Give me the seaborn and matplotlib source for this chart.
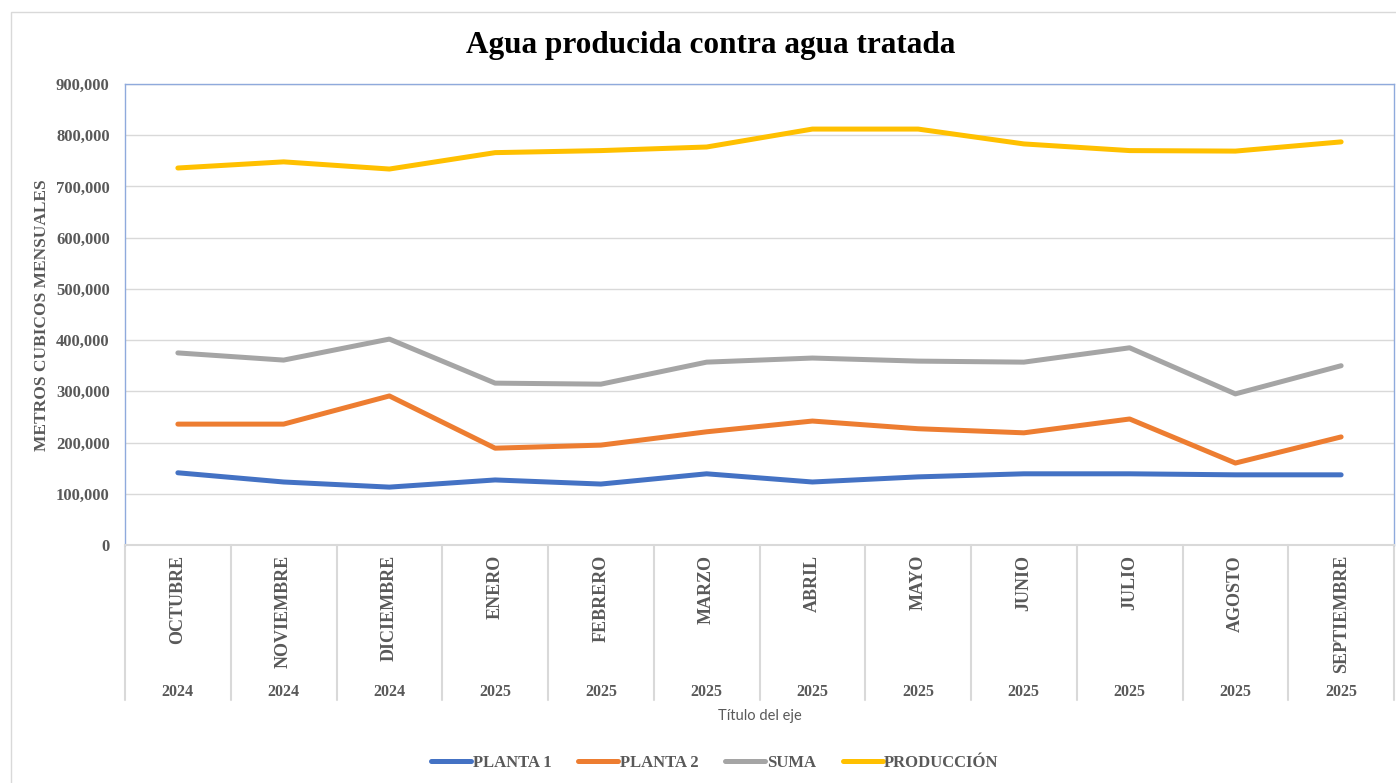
import matplotlib
matplotlib.use("Agg")
import matplotlib.pyplot as plt
import matplotlib.transforms as mtransforms
from matplotlib.patches import Rectangle
from matplotlib.ticker import FuncFormatter
import seaborn as sns
import pandas as pd

months = ["OCTUBRE", "NOVIEMBRE", "DICIEMBRE", "ENERO", "FEBRERO", "MARZO",
          "ABRIL", "MAYO", "JUNIO", "JULIO", "AGOSTO", "SEPTIEMBRE"]
years = ["2024", "2024", "2024", "2025", "2025", "2025",
         "2025", "2025", "2025", "2025", "2025", "2025"]
planta1 = [141000, 123000, 113000, 127000, 119000, 139000, 123000, 133000, 139000, 139000, 137000, 137000]
planta2 = [236000, 236000, 291000, 189000, 195000, 221000, 242000, 227000, 219000, 246000, 160000, 211000]
suma = [375000, 361000, 402000, 316000, 314000, 357000, 365000, 359000, 357000, 385000, 295000, 350000]
produccion = [736000, 748000, 734000, 766000, 770000, 777000, 812000, 812000, 783000, 770000, 769000, 787000]
series_names = ["PLANTA 1", "PLANTA 2", "SUMA", "PRODUCCIÓN"]
colors = ["#4472C4", "#ED7D31", "#A5A5A5", "#FFC000"]

rows = []
for name, vals in zip(series_names, [planta1, planta2, suma, produccion]):
    for i, v in enumerate(vals):
        rows.append({"idx": i, "valor": v, "serie": name})
df = pd.DataFrame(rows)

sns.set_theme(style="white")
plt.rcParams["font.family"] = ["Liberation Serif", "DejaVu Serif"]

W, H = 1396, 783
fig = plt.figure(figsize=(W / 100, H / 100), dpi=100)
fig.patch.set_facecolor("white")

# outer chart border
fig.patches.append(Rectangle((10.5 / W, -0.05), 1.2, 1 - 12.5 / H + 0.05,
                             transform=fig.transFigure, fill=False,
                             edgecolor="#D9D9D9", linewidth=1.0))

L, R, T, B = 125, 1394, 84, 545
ax = fig.add_axes([L / W, 1 - B / H, (R - L) / W, (B - T) / H])

sns.lineplot(data=df, x="idx", y="valor", hue="serie", hue_order=series_names,
             palette=colors, linewidth=3.6, ax=ax, legend=False,
             solid_capstyle="round", solid_joinstyle="round")

ax.set_xlim(-0.5, 11.5)
ax.set_ylim(0, 900000)
ax.set_yticks(range(0, 900001, 100000))
ax.yaxis.set_major_formatter(FuncFormatter(lambda v, p: "0" if v == 0 else f"{int(v):,}"))
ax.grid(axis="y", color="#D9D9D9", linewidth=1.0)
ax.set_axisbelow(True)
ax.set_xticks([])
ax.set_xlabel("")
ax.set_ylabel("")
for lab in ax.get_yticklabels():
    lab.set_fontweight("bold")
    lab.set_color("#595959")
    lab.set_fontsize(12)
ax.tick_params(axis="y", length=0, pad=11)

for s in ["left", "top", "right"]:
    ax.spines[s].set_color("#8FAADC")
    ax.spines[s].set_linewidth(1.0)
ax.spines["bottom"].set_color("#D9D9D9")
ax.spines["bottom"].set_linewidth(1.5)

trans = mtransforms.blended_transform_factory(ax.transData, ax.transAxes)
ph = B - T
sep_bottom = -(700 - B) / ph
for k in range(13):
    ax.plot([k - 0.5, k - 0.5], [0, sep_bottom], transform=trans, color="#D9D9D9",
            linewidth=1.5, clip_on=False)
for i, (m, yv) in enumerate(zip(months, years)):
    ax.text(i, -(555 - B) / ph, m, transform=trans, rotation=90, ha="center", va="top",
            fontsize=13, fontweight="bold", color="#595959")
    ax.text(i, -(692 - B) / ph, yv, transform=trans, ha="center", va="center",
            fontsize=11.5, fontweight="bold", color="#595959")

fig.text(760 / W, 1 - 716 / H, "Título del eje", ha="center", va="center",
         fontsize=10.5, color="#595959", family=["Lato", "DejaVu Sans"])
fig.text(42 / W, 1 - 315 / H, "METROS CUBICOS MENSUALES", rotation=90, ha="center",
         va="center", fontsize=12.5, fontweight="bold", color="#595959")
fig.text(711 / W, 1 - 45 / H, "Agua producida contra agua tratada", ha="center",
         va="center", fontsize=22.5, fontweight="bold", color="black")

handles = [plt.Line2D([], [], color=c, linewidth=3.6, solid_capstyle="round") for c in colors]
leg = fig.legend(handles, series_names, loc="center", bbox_to_anchor=(715 / W, 1 - 763 / H),
                 ncol=4, frameon=False, handlelength=2.4, handletextpad=0.1,
                 columnspacing=1.6, prop={"weight": "bold", "size": 12})
for t in leg.get_texts():
    t.set_color("#595959")

fig.savefig("out.png", dpi=100, facecolor="white")
